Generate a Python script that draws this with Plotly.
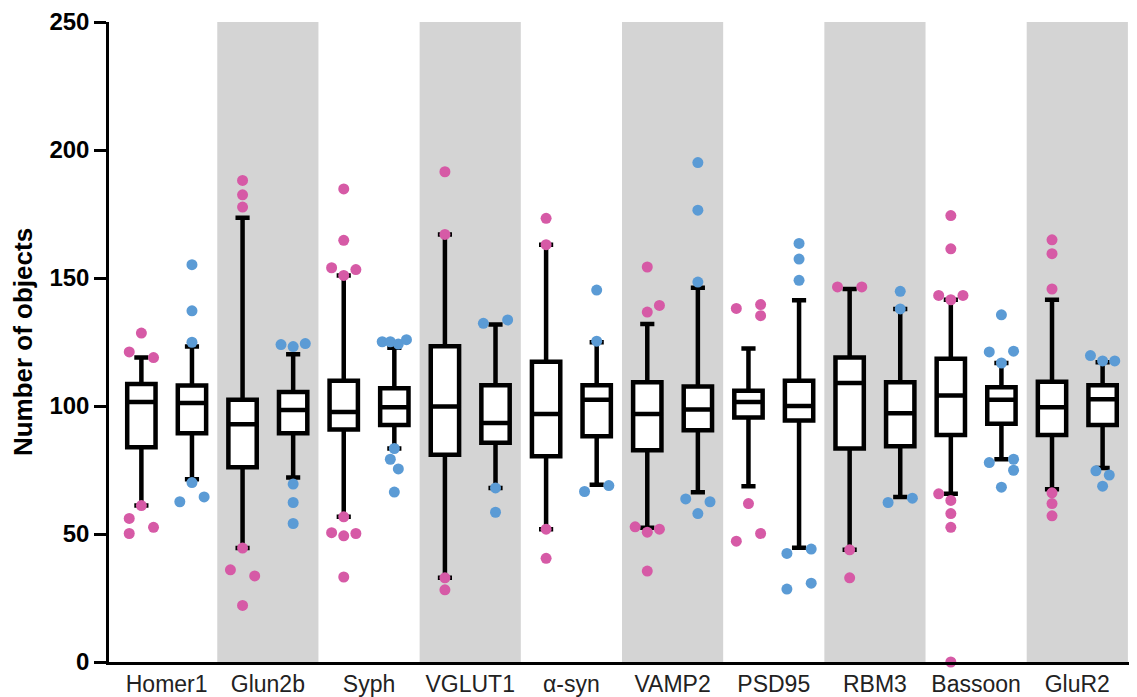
import plotly.graph_objects as go

categories = ["Homer1", "Glun2b", "Syph", "VGLUT1", "α-syn", "VAMP2", "PSD95", "RBM3", "Bassoon", "GluR2"]
y_ticks = [0, 50, 100, 150, 200, 250]

# Left (pink) boxes
pink_lower = [61.1, 44.5, 56.7, 32.9, 51.9, 52.4, 68.7, 43.8, 65.7, 67.5]
pink_q1 = [83.9, 76.1, 90.8, 81.0, 80.4, 82.7, 95.5, 83.4, 88.7, 88.7]
pink_median = [101.6, 92.9, 97.7, 99.8, 96.9, 96.9, 101.6, 109.0, 104.1, 99.5]
pink_q3 = [108.6, 102.4, 109.9, 123.3, 117.3, 109.3, 106.0, 118.9, 118.5, 109.5]
pink_upper = [118.9, 173.5, 151.0, 167.0, 163.0, 132.0, 122.5, 145.7, 141.5, 141.5]

# Right (blue) boxes
blue_lower = [71.4, 72.1, 83.4, 68.0, 69.2, 66.3, 44.6, 64.5, 79.2, 75.8]
blue_q1 = [89.4, 89.4, 92.6, 85.6, 88.2, 90.5, 94.3, 84.3, 93.1, 92.6]
blue_median = [101.2, 98.4, 99.5, 93.4, 102.4, 98.6, 100.0, 97.2, 102.4, 102.6]
blue_q3 = [108.0, 105.5, 106.9, 108.1, 108.1, 107.6, 109.9, 109.3, 107.3, 108.1]
blue_upper = [123.2, 120.2, 122.8, 131.8, 124.9, 146.2, 141.3, 137.9, 116.8, 117.1]

# Outlier values per category
pink_outliers = {
    "Homer1": [128.5, 121.1, 118.9, 61.1, 56.1, 52.6, 50.2],
    "Glun2b": [188.1, 182.5, 177.7, 44.5, 36.0, 33.6, 22.1],
    "Syph": [184.8, 164.7, 154.0, 151.0, 153.3, 56.7, 50.5, 49.3, 50.2, 33.2],
    "VGLUT1": [191.5, 167.0, 32.9, 28.2],
    "α-syn": [173.3, 163.0, 51.9, 40.5],
    "VAMP2": [154.3, 136.7, 139.3, 52.8, 50.7, 51.9, 35.5],
    "PSD95": [138.1, 139.6, 135.3, 61.9, 50.2, 47.2],
    "RBM3": [146.5, 146.5, 43.8, 32.9],
    "Bassoon": [174.4, 161.4, 143.2, 141.5, 143.2, 65.7, 63.1, 58.0, 52.6, 0.0],
    "GluR2": [164.9, 159.5, 145.7, 66.1, 61.9, 57.1],
}
blue_outliers = {
    "Homer1": [155.2, 137.2, 124.9, 70.1, 62.6, 64.5],
    "Glun2b": [124.0, 123.2, 124.4, 69.5, 62.3, 54.1],
    "Syph": [125.1, 125.1, 124.2, 125.9, 83.4, 79.2, 75.4, 66.4],
    "VGLUT1": [132.3, 133.6, 68.0, 58.5],
    "α-syn": [145.3, 125.3, 66.6, 68.9],
    "VAMP2": [195.1, 176.5, 148.4, 63.7, 62.6, 58.0],
    "PSD95": [163.5, 157.4, 149.1, 42.4, 44.1, 28.5, 30.8],
    "RBM3": [144.8, 137.9, 62.3, 64.0],
    "Bassoon": [135.6, 121.1, 121.4, 116.8, 77.9, 79.2, 74.9, 68.3],
    "GluR2": [119.7, 117.6, 117.6, 74.7, 73.0, 68.7],
}

# Horizontal spread of the outlier dots (in jitter steps)
pink_spread = {
    "Homer1": [0, -1, 1, 0, -1, 1, -1],
    "Glun2b": [0, 0, 0, 0, -1, 1, 0],
    "Syph": [0, 0, -1, 0, 1, 0, -1, 0, 1, 0],
    "VGLUT1": [0, 0, 0, 0],
    "α-syn": [0, 0, 0, 0],
    "VAMP2": [0, 0, 1, -1, 0, 1, 0],
    "PSD95": [-1, 1, 1, 0, 1, -1],
    "RBM3": [-1, 1, 0, 0],
    "Bassoon": [0, 0, -1, 0, 1, -1, 0, 0, 0, 0],
    "GluR2": [0, 0, 0, 0, 0, 0],
}
blue_spread = {
    "Homer1": [0, 0, 0, 0, -1, 1],
    "Glun2b": [-1, 0, 1, 0, 0, 0],
    "Syph": [-1, -0.33, 0.33, 1, 0, -0.33, 0.33, 0],
    "VGLUT1": [-1, 1, 0, 0],
    "α-syn": [0, 0, -1, 1],
    "VAMP2": [0, 0, 0, -1, 1, 0],
    "PSD95": [0, 0, 0, -1, 1, -1, 1],
    "RBM3": [0, 0, -1, 1],
    "Bassoon": [0, -1, 1, 0, -1, 1, 1, 0],
    "GluR2": [-1, 0, 1, -0.55, 0.55, 0],
}

PINK = "#d65aa6"
BLUE = "#5b9bd5"
GREY_BAND = "#d4d4d4"
OFFSET = 0.25
JIT = 0.12
FONT = "Arial, Liberation Sans, sans-serif"

idx = list(range(len(categories)))
fig = go.Figure()

box_style = dict(fillcolor="white", line=dict(color="black", width=4.5),
                 whiskerwidth=0.5, width=0.28, boxpoints=False, showlegend=False)

fig.add_trace(go.Box(x=[i - OFFSET for i in idx], q1=pink_q1, median=pink_median, q3=pink_q3,
                     lowerfence=pink_lower, upperfence=pink_upper, **box_style))
fig.add_trace(go.Box(x=[i + OFFSET for i in idx], q1=blue_q1, median=blue_median, q3=blue_q3,
                     lowerfence=blue_lower, upperfence=blue_upper, **box_style))

for outl, spread, side, color in [(pink_outliers, pink_spread, -OFFSET, PINK),
                                  (blue_outliers, blue_spread, OFFSET, BLUE)]:
    xs, ys = [], []
    for i, cat in enumerate(categories):
        for v, s in zip(outl[cat], spread[cat]):
            xs.append(i + side + s * JIT)
            ys.append(v)
    fig.add_trace(go.Scatter(x=xs, y=ys, mode="markers", cliponaxis=False,
                             marker=dict(color=color, size=11, line=dict(width=0)),
                             showlegend=False))

shapes = []
for i in idx:
    if i % 2 == 1:
        shapes.append(dict(type="rect", xref="x", yref="y", x0=i - 0.5, x1=i + 0.5,
                           y0=0, y1=250, fillcolor=GREY_BAND, line=dict(width=0), layer="below"))

# The page body adds an 8px margin, so the figure is sized/margined to compensate.
fig.update_layout(
    width=1129, height=689,
    margin=dict(l=101, r=0, t=13, b=34),
    paper_bgcolor="white", plot_bgcolor="white",
    shapes=shapes,
    showlegend=False,
    xaxis=dict(range=[-0.57, 9.59], tickmode="array", tickvals=idx, ticktext=categories,
               showgrid=False, zeroline=False, showline=True, linecolor="black", linewidth=2.5,
               ticks="", ticklabeloverflow="allow",
               tickfont=dict(family=FONT, size=23, color="#222222")),
    yaxis=dict(range=[0, 250], tickmode="array", tickvals=y_ticks,
               showgrid=False, zeroline=False, showline=True, linecolor="black", linewidth=2.5,
               ticks="outside", ticklen=12, tickwidth=2.5, tickcolor="black",
               ticklabeloverflow="allow",
               tickfont=dict(family=FONT, size=24, color="black", weight="bold"),
               title=dict(text="Number of objects", standoff=12,
                          font=dict(family=FONT, size=26, color="black", weight="bold"))),
)

fig.write_html("out.html")
